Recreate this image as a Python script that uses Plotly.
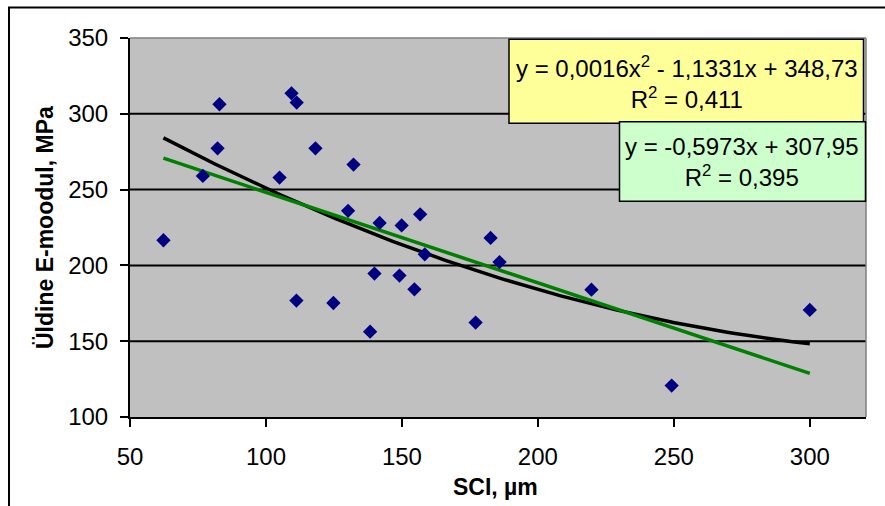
import numpy as np
import plotly.graph_objects as go

# ---- data ----
sci = [62.3, 76.8, 82.9, 82.2, 109.4, 111.3, 105.0, 118.2, 132.2, 130.2,
       141.8, 149.9, 156.7, 182.6, 158.4, 185.9, 139.9, 149.1, 154.6, 111.2,
       124.8, 138.3, 177.1, 219.7, 249.2, 300.0]
emod = [216.6, 259.0, 306.3, 277.2, 313.5, 307.4, 257.9, 277.2, 266.5, 236.0,
        228.0, 226.4, 233.7, 218.1, 207.3, 202.2, 194.6, 193.3, 184.2, 176.8,
        175.2, 156.3, 162.3, 184.0, 120.7, 170.6]

lin_coef = [-0.5973, 307.95]            # y = a x + b
quad_coef = [0.00155, -1.1331, 348.73]  # y = a x^2 + b x + c  (shown as 0,0016)
eq_quad = "y = 0,0016x<sup>2</sup> - 1,1331x + 348,73<br>R<sup>2</sup> = 0,411"
eq_lin = "y = -0,5973x + 307,95<br>R<sup>2</sup> = 0,395"

x_ticks = [50, 100, 150, 200, 250, 300]
y_ticks = [100, 150, 200, 250, 300, 350]
x_title = "SCI, µm"
y_title = "Üldine E-moodul, MPa"

FONT = "Arial, Liberation Sans, sans-serif"

# plot-area geometry (pixels)
W, H = 885, 506
L, R, T, B = 130, 866, 38, 417
PW, PH = R - L, B - T

def px(x):
    return (x - L) / PW

def py(y):
    return (B - y) / PH

xs = np.linspace(min(sci), max(sci), 200)
y_lin = np.polyval(lin_coef, xs)
y_quad = np.polyval(quad_coef, xs)

fig = go.Figure()
fig.add_trace(go.Scatter(x=xs, y=y_quad, mode="lines",
                         line=dict(color="black", width=3.5), hoverinfo="skip"))
fig.add_trace(go.Scatter(x=xs, y=y_lin, mode="lines",
                         line=dict(color="#008000", width=3.5), hoverinfo="skip"))
fig.add_trace(go.Scatter(x=sci, y=emod, mode="markers",
                         marker=dict(symbol="diamond", size=11, color="#000080",
                                     line=dict(width=0))))

x_max = 50 + (R - L) / ((809.3 - 129.5) / 250)

grid_shapes = [dict(type="line", xref="paper", yref="y", x0=0, x1=1, y0=v, y1=v,
                    line=dict(color="black", width=2), layer="below")
               for v in y_ticks[1:-1]]

fig.update_layout(
    width=W, height=H,
    margin=dict(l=L, r=W - R, t=T, b=H - B, pad=0),
    paper_bgcolor="white",
    plot_bgcolor="#C0C0C0",
    showlegend=False,
    font=dict(family=FONT, size=22, color="black"),
    xaxis=dict(range=[50, x_max], tickmode="array", tickvals=x_ticks,
               ticks="outside", ticklen=8, tickwidth=1.5, tickcolor="black",
               showline=True, linecolor="black", linewidth=2,
               showgrid=False, zeroline=False,
               tickfont=dict(size=24), ticklabelstandoff=9),
    yaxis=dict(range=[100, 350], tickmode="array", tickvals=y_ticks,
               ticks="outside", ticklen=8, tickwidth=1.5, tickcolor="black",
               showline=True, linecolor="black", linewidth=2,
               showgrid=False, zeroline=False,
               tickfont=dict(size=24), ticklabelstandoff=7),
    shapes=grid_shapes + [
        dict(type="line", xref="paper", yref="paper", x0=0, x1=1, y0=1, y1=1,
             line=dict(color="#808080", width=1.5)),
        dict(type="line", xref="paper", yref="paper", x0=1, x1=1, y0=0, y1=1,
             line=dict(color="#808080", width=1.5)),
        dict(type="rect", xref="paper", yref="paper",
             x0=px(9), x1=px(1000), y0=py(700), y1=py(7.5),
             line=dict(color="black", width=2), fillcolor="rgba(0,0,0,0)", layer="above"),
        dict(type="rect", xref="paper", yref="paper",
             x0=px(509), x1=px(863.5), y0=py(123.3), y1=py(39.3),
             line=dict(color="black", width=1.5), fillcolor="#FFFF99", layer="above"),
        dict(type="rect", xref="paper", yref="paper",
             x0=px(619.5), x1=px(865.5), y0=py(201.3), y1=py(121.7),
             line=dict(color="black", width=1.5), fillcolor="#CCFFCC", layer="above"),
    ],
    annotations=[
        dict(text=eq_quad, xref="paper", yref="paper", x=px(686.5), y=py(82.5),
             xanchor="center", yanchor="middle", showarrow=False, align="center",
             font=dict(size=24, family=FONT)),
        dict(text=eq_lin, xref="paper", yref="paper", x=px(742), y=py(161.7),
             xanchor="center", yanchor="middle", showarrow=False, align="center",
             font=dict(size=24, family=FONT)),
        dict(text="<b>" + x_title + "</b>", xref="paper", yref="paper",
             x=px(495), y=py(487), xanchor="center", yanchor="middle",
             showarrow=False, font=dict(size=23, family=FONT)),
        dict(text="<b>" + y_title + "</b>", xref="paper", yref="paper",
             x=px(45), y=py(228), xanchor="center", yanchor="middle",
             showarrow=False, textangle=-90, font=dict(size=23, family=FONT)),
    ],
)

fig.write_html("out.html", config={"displayModeBar": False},
               post_script="document.body.style.margin='0';document.body.style.overflow='hidden';")
